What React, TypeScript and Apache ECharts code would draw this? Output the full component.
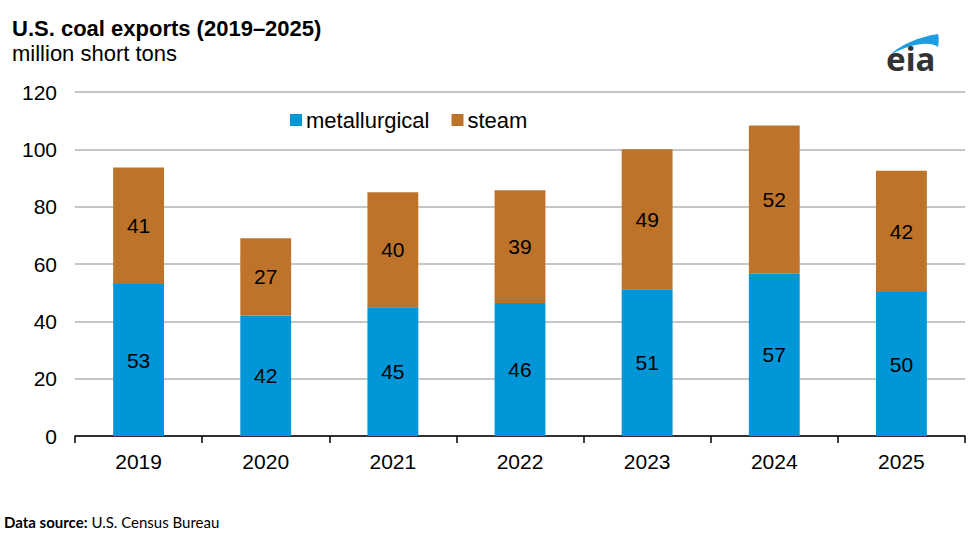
import React, { useEffect, useRef } from "react";
import * as echarts from "echarts";

const categories = ["2019", "2020", "2021", "2022", "2023", "2024", "2025"];
const metallurgical = [53.0, 42.0, 44.9, 46.4, 51.2, 56.6, 50.2];
const steam = [40.7, 27.0, 40.1, 39.3, 48.8, 51.7, 42.3];
const yTicks = [0, 20, 40, 60, 80, 100, 120];

const FONT = "'Liberation Sans', Arial, sans-serif";

echarts.graphic.registerShape(
  "eiaArc",
  echarts.graphic.extendPath(
    "M0 21 C 10 11, 28 3, 48 0 C 49 3, 49 8, 48 13 C 40 7, 22 9, 0 21 Z",
    {}
  )
);

export default function App() {
  const ref = useRef<HTMLDivElement>(null);
  useEffect(() => {
    document.body.style.margin = "0";
    if (!ref.current) return;
    const chart = echarts.init(ref.current, null, { renderer: "svg" });
    chart.setOption({
      animation: false,
      backgroundColor: "#ffffff",
      textStyle: { fontFamily: FONT },
      title: [
        {
          text: "U.S. coal exports (2019–2025)",
          left: 7,
          top: 12,
          textStyle: { fontFamily: FONT, fontSize: 22, fontWeight: "bold", color: "#000" },
        },
        {
          text: "million short tons",
          left: 7,
          top: 37,
          textStyle: { fontFamily: FONT, fontSize: 22, fontWeight: "normal", color: "#000" },
        },
      ],
      legend: {
        top: 104,
        left: 285,
        itemWidth: 12,
        itemHeight: 12,
        itemGap: 22,
        icon: "rect",
        textStyle: { fontFamily: FONT, fontSize: 22, color: "#000", padding: [0, 0, 0, -1] },
        data: ["metallurgical", "steam"],
      },
      grid: { left: 75, right: 15, top: 92, bottom: 98 },
      xAxis: {
        type: "category",
        data: categories,
        axisLine: { lineStyle: { color: "#000", width: 1.5 } },
        axisTick: { show: true, length: 7, lineStyle: { color: "#000", width: 1.5 } },
        axisLabel: { fontFamily: FONT, fontSize: 21, color: "#000", margin: 15 },
      },
      yAxis: {
        type: "value",
        min: 0,
        max: 120,
        interval: 20,
        axisLine: { show: false },
        axisTick: { show: false },
        splitLine: { lineStyle: { color: "#b3b3b3", width: 1.5 } },
        axisLabel: {
          fontFamily: FONT,
          fontSize: 21,
          color: "#000",
          margin: 18,
          formatter: (v: number) => (yTicks.includes(v) ? String(v) : ""),
        },
      },
      series: [
        {
          name: "metallurgical",
          type: "bar",
          stack: "total",
          data: metallurgical,
          barWidth: "40%",
          itemStyle: { color: "#0096d7" },
          label: {
            show: true,
            position: "inside",
            fontFamily: FONT,
            fontSize: 21,
            color: "#000",
            formatter: (p: any) => String(Math.round(p.value)),
          },
        },
        {
          name: "steam",
          type: "bar",
          stack: "total",
          data: steam,
          barWidth: "40%",
          itemStyle: { color: "#bd732a" },
          label: {
            show: true,
            position: "inside",
            fontFamily: FONT,
            fontSize: 21,
            color: "#000",
            formatter: (p: any) => String(Math.round(p.value)),
          },
        },
      ],
      graphic: [
        {
          type: "eiaArc",
          x: 890,
          y: 34,
          scaleX: 1,
          scaleY: 1,
          style: { fill: "#1e9ee0" },
        },
        {
          type: "text",
          x: 886,
          y: 42,
          style: {
            text: "eia",
            fontFamily: "'Noto Sans', sans-serif",
            fontSize: 33,
            fontWeight: "bold",
            fill: "#333",
          },
        },
        {
          type: "text",
          x: 4,
          y: 514,
          style: {
            text: "{b|Data source:} U.S. Census Bureau",
            rich: {
              b: { fontFamily: "Lato, sans-serif", fontWeight: "bold", fontSize: 15, fill: "#000" },
            },
            fontFamily: "Lato, sans-serif",
            fontSize: 15,
            fill: "#000",
          },
        },
      ],
    });
    return () => chart.dispose();
  }, []);
  return <div ref={ref} style={{ width: 980, height: 534 }} />;
}
